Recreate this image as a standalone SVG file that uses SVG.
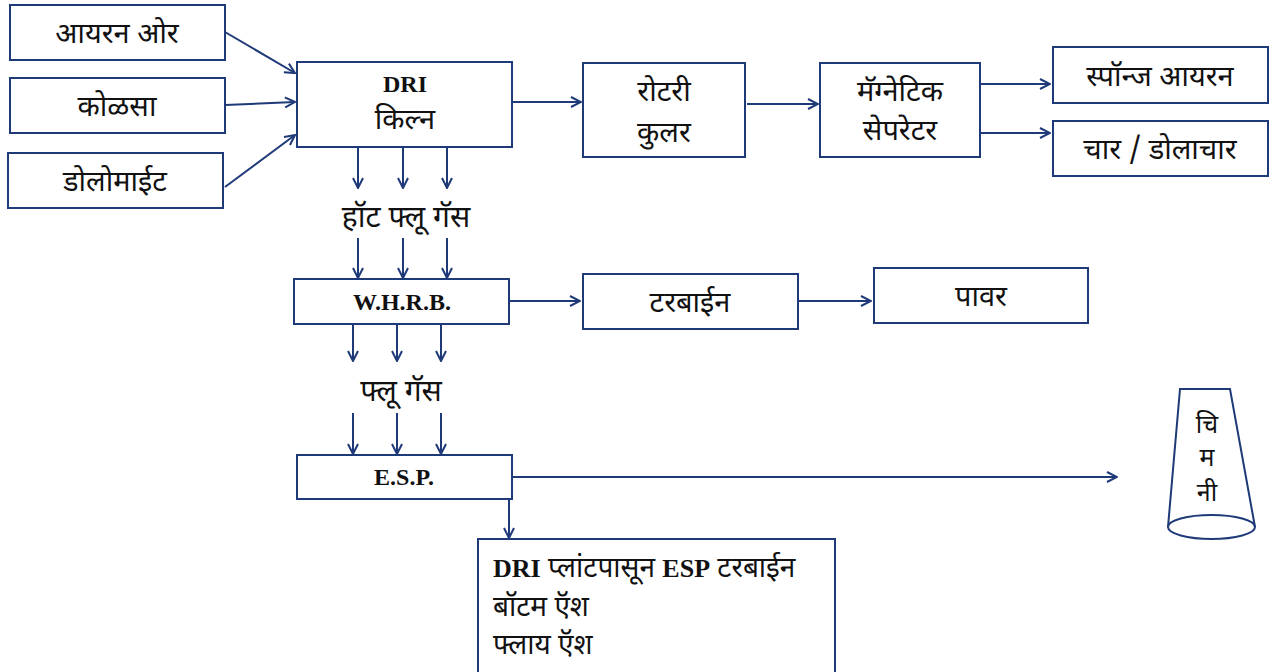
<svg xmlns="http://www.w3.org/2000/svg" width="1285" height="672" viewBox="0 0 1285 672">
<style>
.box{fill:#fff;stroke:#1f3a78;stroke-width:2}
.ln{stroke:#1f3a78;stroke-width:2;fill:none}
.t{font-family:"Noto Sans Devanagari","Noto Sans","Lohit Devanagari",sans-serif;font-size:29px;fill:#111;text-anchor:middle}
.b{font-family:"Liberation Serif",serif;font-weight:bold;font-size:24px;fill:#111;text-anchor:middle}
.l{font-family:"Noto Sans Devanagari","Noto Sans",sans-serif;font-size:28px;fill:#111}
.lb{font-family:"Liberation Serif",serif;font-weight:bold;font-size:26px}
</style>
<defs>
<marker id="ah" viewBox="0 0 12 12" refX="11" refY="6" markerWidth="12" markerHeight="12" markerUnits="userSpaceOnUse" orient="auto">
<path d="M1,1 L11,6 L1,11" fill="none" stroke="#1f3a78" stroke-width="2"/>
</marker>
</defs>
<rect width="1285" height="672" fill="#fff"/>
<g id="connectors" class="ln" marker-end="url(#ah)">
<line x1="225" y1="32" x2="295" y2="73"/>
<line x1="225" y1="105" x2="295" y2="102"/>
<line x1="225" y1="187" x2="295" y2="135"/>
<line x1="512" y1="102" x2="581" y2="102"/>
<line x1="747" y1="104" x2="818" y2="104"/>
<line x1="980" y1="84" x2="1050" y2="84"/>
<line x1="980" y1="133" x2="1050" y2="133"/>
<line x1="358" y1="148" x2="358" y2="188"/>
<line x1="403" y1="148" x2="403" y2="188"/>
<line x1="447" y1="148" x2="447" y2="188"/>
<line x1="358" y1="238" x2="358" y2="278"/>
<line x1="403" y1="238" x2="403" y2="278"/>
<line x1="447" y1="238" x2="447" y2="278"/>
<line x1="353" y1="325" x2="353" y2="361"/>
<line x1="397" y1="325" x2="397" y2="361"/>
<line x1="441" y1="325" x2="441" y2="361"/>
<line x1="353" y1="413" x2="353" y2="454"/>
<line x1="397" y1="413" x2="397" y2="454"/>
<line x1="441" y1="413" x2="441" y2="454"/>
<line x1="509" y1="301" x2="580" y2="301"/>
<line x1="798" y1="301" x2="871" y2="301"/>
<line x1="512" y1="477" x2="1117" y2="477"/>
<line x1="509" y1="500" x2="509" y2="538"/>
</g>
<g id="iron-ore"><rect class="box" x="10" y="5" width="215" height="55"/><text class="t" x="117" y="43">आयरन ओर</text></g>
<g id="coal"><rect class="box" x="10" y="78" width="215" height="55"/><text class="t" x="117" y="116">कोळसा</text></g>
<g id="dolomite"><rect class="box" x="8" y="153" width="215" height="55"/><text class="t" x="115" y="191">डोलोमाईट</text></g>
<g id="dri-kiln"><rect class="box" x="297" y="62" width="215" height="85"/><text class="b" x="405" y="92">DRI</text><text class="t" x="405" y="129">किल्न</text></g>
<g id="rotary-cooler"><rect class="box" x="583" y="63" width="162" height="94"/><text class="t" x="664" y="101">रोटरी</text><text class="t" x="664" y="142">कुलर</text></g>
<g id="magnetic-separator"><rect class="box" x="820" y="63" width="160" height="94"/><text class="t" x="900" y="101">मॅग्नेटिक</text><text class="t" x="900" y="140">सेपरेटर</text></g>
<g id="sponge-iron"><rect class="box" x="1053" y="47" width="215" height="56"/><text class="t" x="1160" y="86">स्पॉन्ज आयरन</text></g>
<g id="char"><rect class="box" x="1053" y="121" width="215" height="55"/><text class="t" x="1160" y="159">चार / डोलाचार</text></g>
<g id="hot-flue-gas"><text class="t" x="406" y="227" style="font-size:30px">हॉट फ्लू गॅस</text></g>
<g id="whrb"><rect class="box" x="294" y="279" width="215" height="45"/><text class="b" x="402" y="310">W.H.R.B.</text></g>
<g id="turbine"><rect class="box" x="583" y="274" width="215" height="55"/><text class="t" x="690" y="312">टरबाईन</text></g>
<g id="power"><rect class="box" x="874" y="268" width="214" height="55"/><text class="t" x="981" y="306">पावर</text></g>
<g id="flue-gas"><text class="t" x="401" y="401" style="font-size:30px">फ्लू गॅस</text></g>
<g id="esp"><rect class="box" x="297" y="455" width="215" height="44"/><text class="b" x="404" y="485">E.S.P.</text></g>
<g id="ash"><rect class="box" x="478" y="539" width="357" height="140"/>
<text class="l" x="493" y="577"><tspan class="lb">DRI</tspan> प्लांटपासून <tspan class="lb">ESP</tspan> टरबाईन</text>
<text class="l" x="493" y="616">बॉटम ऍश</text>
<text class="l" x="493" y="654">फ्लाय ऍश</text>
</g>
<g id="chimney">
<path class="ln" d="M1168,527 L1180,389 L1230,389 L1255,527"/>
<ellipse class="ln" cx="1211.5" cy="527" rx="43.5" ry="12"/>
<text class="t" x="1207" y="433" style="font-size:25px">चि</text>
<text class="t" x="1207" y="466" style="font-size:25px">म</text>
<text class="t" x="1207" y="501" style="font-size:25px">नी</text>
</g>
</svg>
